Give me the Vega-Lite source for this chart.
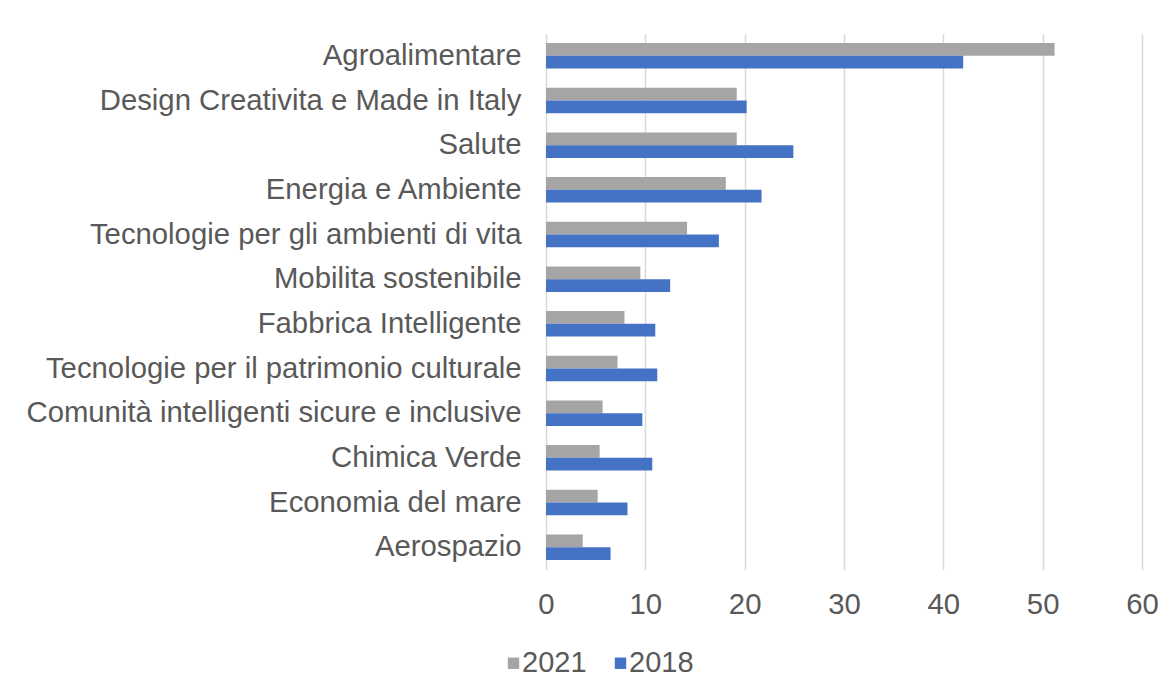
{
  "$schema": "https://vega.github.io/schema/vega-lite/v6.json",
  "autosize": {"type": "none"},
  "padding": {"left": 546, "top": 33.5, "right": 34, "bottom": 129.5},
  "width": 596,
  "height": 536,
  "background": "white",
  "config": {
    "font": "Liberation Sans",
    "view": {"stroke": null},
    "axis": {"labelFont": "Liberation Sans", "labelColor": "#595959", "labelFontSize": 29.3}
  },
  "data": {
    "values": [
      {"settore": "Agroalimentare", "anno": "2021", "valore": 51.2},
      {"settore": "Agroalimentare", "anno": "2018", "valore": 42.0},
      {"settore": "Design Creativita e Made in Italy", "anno": "2021", "valore": 19.2},
      {"settore": "Design Creativita e Made in Italy", "anno": "2018", "valore": 20.2},
      {"settore": "Salute", "anno": "2021", "valore": 19.2},
      {"settore": "Salute", "anno": "2018", "valore": 24.9},
      {"settore": "Energia e Ambiente", "anno": "2021", "valore": 18.1},
      {"settore": "Energia e Ambiente", "anno": "2018", "valore": 21.7},
      {"settore": "Tecnologie per gli ambienti di vita", "anno": "2021", "valore": 14.2},
      {"settore": "Tecnologie per gli ambienti di vita", "anno": "2018", "valore": 17.4},
      {"settore": "Mobilita sostenibile", "anno": "2021", "valore": 9.5},
      {"settore": "Mobilita sostenibile", "anno": "2018", "valore": 12.5},
      {"settore": "Fabbrica Intelligente", "anno": "2021", "valore": 7.9},
      {"settore": "Fabbrica Intelligente", "anno": "2018", "valore": 11.0},
      {"settore": "Tecnologie per il patrimonio culturale", "anno": "2021", "valore": 7.2},
      {"settore": "Tecnologie per il patrimonio culturale", "anno": "2018", "valore": 11.2},
      {"settore": "Comunità intelligenti sicure e inclusive", "anno": "2021", "valore": 5.7},
      {"settore": "Comunità intelligenti sicure e inclusive", "anno": "2018", "valore": 9.7},
      {"settore": "Chimica Verde", "anno": "2021", "valore": 5.4},
      {"settore": "Chimica Verde", "anno": "2018", "valore": 10.7},
      {"settore": "Economia del mare", "anno": "2021", "valore": 5.2},
      {"settore": "Economia del mare", "anno": "2018", "valore": 8.2},
      {"settore": "Aerospazio", "anno": "2021", "valore": 3.7},
      {"settore": "Aerospazio", "anno": "2018", "valore": 6.5}
    ]
  },
  "mark": {"type": "bar"},
  "encoding": {
    "y": {
      "field": "settore",
      "type": "nominal",
      "sort": null,
      "scale": {"paddingInner": 0.43, "paddingOuter": 0.215},
      "axis": {"title": null, "ticks": false, "domain": false, "labelPadding": 25, "grid": false, "labelLimit": 600}
    },
    "yOffset": {
      "field": "anno",
      "type": "nominal",
      "sort": ["2021", "2018"],
      "scale": {"paddingInner": 0, "paddingOuter": 0}
    },
    "x": {
      "field": "valore",
      "type": "quantitative",
      "scale": {"domain": [0, 60], "nice": false},
      "axis": {
        "title": null,
        "values": [0, 10, 20, 30, 40, 50, 60],
        "ticks": false,
        "domain": false,
        "grid": true,
        "gridColor": "#D9D9D9",
        "gridWidth": 1.5,
        "labelFlush": false,
        "labelPadding": 21
      }
    },
    "color": {
      "field": "anno",
      "type": "nominal",
      "sort": ["2021", "2018"],
      "scale": {"domain": ["2021", "2018"], "range": ["#A5A5A5", "#4472C4"]},
      "legend": {
        "title": null,
        "orient": "none",
        "direction": "horizontal",
        "legendX": -47,
        "legendY": 615,
        "symbolType": "square",
        "symbolSize": 130,
        "symbolStrokeWidth": 0,
        "labelFontSize": 29,
        "labelColor": "#595959",
        "labelFont": "Liberation Sans",
        "labelOffset": -6,
        "columnPadding": 19
      }
    }
  }
}
